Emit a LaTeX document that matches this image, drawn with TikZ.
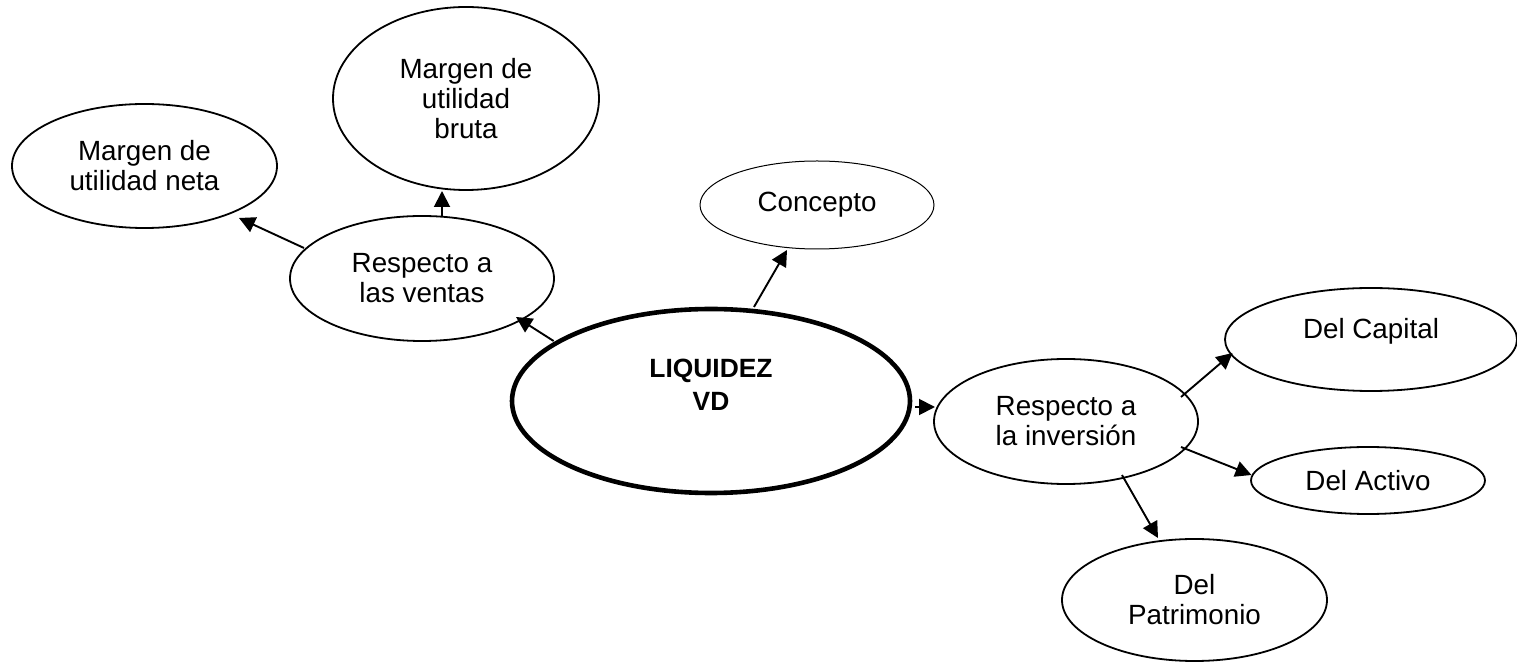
\documentclass[tikz,border=0pt]{standalone}
\usepackage{fontspec}
\setmainfont{Liberation Sans}
\usetikzlibrary{shapes.geometric,arrows.meta,calc}
\begin{document}
\begin{tikzpicture}[x=0.5pt,y=-0.5pt,
  bub/.style={ellipse,draw,line width=0.9pt,inner sep=0pt,align=center,
    font=\fontsize{13.9pt}{15pt}\selectfont},
  arr/.style={-{Triangle[length=8pt,width=8pt]},line width=0.95pt}]
\fill[white] (0,0) rectangle (1517,662);
\useasboundingbox (0,0) rectangle (1517,662);

\node[bub,minimum width=132.5pt,minimum height=62pt] (neta) at (144.5,166) {Margen de\\utilidad neta};
\node[bub,minimum width=133pt,minimum height=91.5pt] (bruta) at (466,98.5) {Margen de\\utilidad\\bruta};
\node[bub,minimum width=132pt,minimum height=62.5pt] (ventas) at (422,278.5) {Respecto a\\las ventas};
\node[bub,line width=0.5pt,minimum width=117pt,minimum height=44pt] (concepto) at (817,205) {Concepto};
\node[bub,line width=2.3pt,minimum width=199pt,minimum height=92pt,
  font=\bfseries\fontsize{13.2pt}{16.5pt}\selectfont] (liq) at (711,401) {LIQUIDEZ\\VD\\\mbox{}};
\node[bub,minimum width=132pt,minimum height=62.5pt] (inv) at (1066,421.5) {Respecto a\\la inversión};
\node[bub,minimum width=146pt,minimum height=51.5pt] (cap) at (1371,339.5) {\raisebox{4.25pt}[\height][\depth]{Del Capital}};
\node[bub,minimum width=117pt,minimum height=33.5pt] (act) at (1368,480.5) {Del Activo};
\node[bub,minimum width=132.5pt,minimum height=61pt] (pat) at (1194.5,600) {Del\\Patrimonio};

\draw[arr] ($(ventas)+(-118,-30.5)$) -- ($(neta)+(94.5,52)$);
\draw[arr] ($(ventas)+(20,-61.5)$) -- ($(bruta)+(-24,92.5)$);
\draw[arr] ($(liq)+(-157.4,-60)$) -- ($(ventas)+(94,38.5)$);
\draw[arr] ($(liq)+(43,-94)$) -- ($(concepto)+(-30,45)$);
\draw[arr] ($(liq)+(204,6)$) -- ($(inv)+(-131,-14.5)$);
\draw[arr] ($(inv)+(115,-24.5)$) -- ($(cap)+(-138.5,13.5)$);
\draw[arr] ($(inv)+(115,25.5)$) -- ($(act)+(-116.5,-5.5)$);
\draw[arr] ($(inv)+(56,53.5)$) -- ($(pat)+(-36.5,-62)$);
\end{tikzpicture}
\end{document}
